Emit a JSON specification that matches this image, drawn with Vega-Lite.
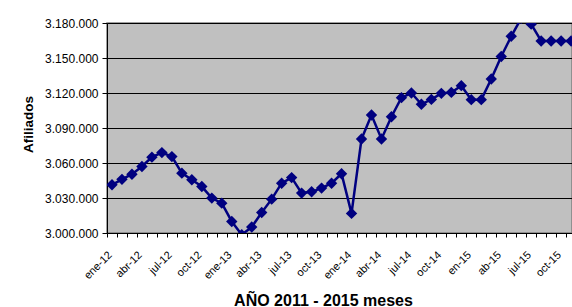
{
  "$schema": "https://vega.github.io/schema/vega-lite/v6.json",
  "autosize": {"type": "none"},
  "width": 465,
  "height": 210,
  "padding": {"left": 107, "top": 23, "right": 0, "bottom": 74},
  "background": "white",
  "config": {
    "view": {"fill": "#C0C0C0", "stroke": "#808080", "strokeWidth": 1.5},
    "font": "Liberation Sans"
  },
  "data": {
    "values": [
      {"i": 0, "mes": "ene-12", "afiliados": 3041300},
      {"i": 1, "mes": "feb-12", "afiliados": 3046000},
      {"i": 2, "mes": "mar-12", "afiliados": 3050400},
      {"i": 3, "mes": "abr-12", "afiliados": 3057000},
      {"i": 4, "mes": "may-12", "afiliados": 3065000},
      {"i": 5, "mes": "jun-12", "afiliados": 3068900},
      {"i": 6, "mes": "jul-12", "afiliados": 3065500},
      {"i": 7, "mes": "ago-12", "afiliados": 3051300},
      {"i": 8, "mes": "sep-12", "afiliados": 3045600},
      {"i": 9, "mes": "oct-12", "afiliados": 3039800},
      {"i": 10, "mes": "nov-12", "afiliados": 3029900},
      {"i": 11, "mes": "dic-12", "afiliados": 3025600},
      {"i": 12, "mes": "ene-13", "afiliados": 3009900},
      {"i": 13, "mes": "feb-13", "afiliados": 2998500},
      {"i": 14, "mes": "mar-13", "afiliados": 3005100},
      {"i": 15, "mes": "abr-13", "afiliados": 3017600},
      {"i": 16, "mes": "may-13", "afiliados": 3029000},
      {"i": 17, "mes": "jun-13", "afiliados": 3042700},
      {"i": 18, "mes": "jul-13", "afiliados": 3047500},
      {"i": 19, "mes": "ago-13", "afiliados": 3034200},
      {"i": 20, "mes": "sep-13", "afiliados": 3035300},
      {"i": 21, "mes": "oct-13", "afiliados": 3038500},
      {"i": 22, "mes": "nov-13", "afiliados": 3042700},
      {"i": 23, "mes": "dic-13", "afiliados": 3050800},
      {"i": 24, "mes": "ene-14", "afiliados": 3016800},
      {"i": 25, "mes": "feb-14", "afiliados": 3080600},
      {"i": 26, "mes": "mar-14", "afiliados": 3101100},
      {"i": 27, "mes": "abr-14", "afiliados": 3080600},
      {"i": 28, "mes": "may-14", "afiliados": 3099700},
      {"i": 29, "mes": "jun-14", "afiliados": 3116000},
      {"i": 30, "mes": "jul-14", "afiliados": 3120000},
      {"i": 31, "mes": "ago-14", "afiliados": 3110300},
      {"i": 32, "mes": "sep-14", "afiliados": 3114500},
      {"i": 33, "mes": "oct-14", "afiliados": 3119700},
      {"i": 34, "mes": "nov-14", "afiliados": 3120500},
      {"i": 35, "mes": "dic-14", "afiliados": 3126300},
      {"i": 36, "mes": "ene-15", "afiliados": 3114300},
      {"i": 37, "mes": "feb-15", "afiliados": 3114300},
      {"i": 38, "mes": "mar-15", "afiliados": 3132000},
      {"i": 39, "mes": "abr-15", "afiliados": 3151300},
      {"i": 40, "mes": "may-15", "afiliados": 3168600},
      {"i": 41, "mes": "jun-15", "afiliados": 3184000},
      {"i": 42, "mes": "jul-15", "afiliados": 3179000},
      {"i": 43, "mes": "ago-15", "afiliados": 3164600},
      {"i": 44, "mes": "sep-15", "afiliados": 3164600},
      {"i": 45, "mes": "oct-15", "afiliados": 3164600},
      {"i": 46, "mes": "nov-15", "afiliados": 3164600},
      {"i": 47, "mes": "dic-15", "afiliados": 3164600}
    ]
  },
  "encoding": {
    "x": {
      "field": "i",
      "type": "quantitative",
      "scale": {"domain": [-0.5, 46.09], "nice": false, "zero": false},
      "axis": {
        "values": [-0.5, 0.5, 1.5, 2.5, 3.5, 4.5, 5.5, 6.5, 7.5, 8.5, 9.5, 10.5, 11.5, 12.5, 13.5, 14.5, 15.5, 16.5, 17.5, 18.5, 19.5, 20.5, 21.5, 22.5, 23.5, 24.5, 25.5, 26.5, 27.5, 28.5, 29.5, 30.5, 31.5, 32.5, 33.5, 34.5, 35.5, 36.5, 37.5, 38.5, 39.5, 40.5, 41.5, 42.5, 43.5, 44.5, 45.5],
        "labelExpr": "(datum.value + 0.5) % 3 == 0 ? ['ene-12','abr-12','jul-12','oct-12','ene-13','abr-13','jul-13','oct-13','ene-14','abr-14','jul-14','oct-14','en-15','ab-15','jul-15','oct-15'][(datum.value + 0.5) / 3] : ''",
        "labelOffset": 3,
        "labelAngle": -45,
        "labelAlign": "right",
        "labelBaseline": "middle",
        "labelPadding": 16,
        "labelFontSize": 11,
        "labelColor": "black",
        "labelOverlap": false,
        "labelBound": false,
        "labelFlush": false,
        "tickSize": 4,
        "tickColor": "black",
        "domainColor": "black",
        "grid": false,
        "title": "AÑO 2011 - 2015 meses",
        "titleFontSize": 16,
        "titleFontWeight": "bold",
        "titleColor": "black",
        "titleX": 216,
        "titleY": 72,
        "titleAlign": "center",
        "titleBaseline": "alphabetic"
      }
    },
    "y": {
      "field": "afiliados",
      "type": "quantitative",
      "scale": {"domain": [3000000, 3180000], "nice": false, "zero": false},
      "axis": {
        "values": [3000000, 3030000, 3060000, 3090000, 3120000, 3150000, 3180000],
        "labelExpr": "replace(format(datum.value, ','), regexp(',', 'g'), '.')",
        "labelFontSize": 12,
        "labelColor": "black",
        "labelPadding": 4,
        "tickSize": 5,
        "tickColor": "black",
        "domainColor": "black",
        "grid": true,
        "gridColor": "black",
        "gridWidth": 1,
        "title": "Afiliados",
        "titleFontSize": 13.5,
        "titleFontWeight": "bold",
        "titleColor": "black",
        "titleX": -79,
        "titleY": 101,
        "titleAlign": "center",
        "titleBaseline": "middle",
        "titleAngle": -90
      }
    }
  },
  "layer": [
    {"mark": {"type": "line", "color": "#000080", "strokeWidth": 2.5, "clip": true}},
    {"mark": {"type": "point", "shape": "diamond", "filled": true, "color": "#000080", "size": 130, "opacity": 1, "clip": true}}
  ]
}
